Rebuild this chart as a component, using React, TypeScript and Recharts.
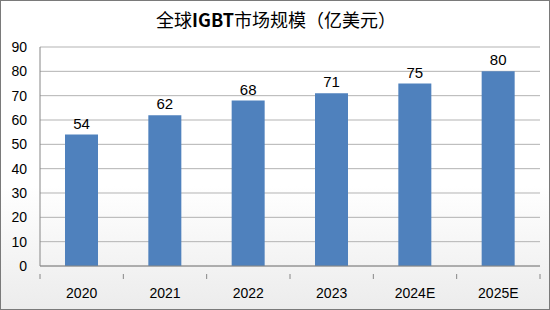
import React from "react";
import { BarChart, Bar, XAxis, YAxis, CartesianGrid, LabelList } from "recharts";

const years = ["2020", "2021", "2022", "2023", "2024E", "2025E"];
const marketSize = [54, 62, 68, 71, 75, 80];
const yTicks = [0, 10, 20, 30, 40, 50, 60, 70, 80, 90];

const data = years.map((year, i) => ({ year, value: marketSize[i] }));

const W = 550;
const H = 310;
const LEFT = 40;
const RIGHT = 10;
const BAND = (W - LEFT - RIGHT) / years.length;
const FONT = "'Liberation Sans', Arial, sans-serif";

const XTick = (props: any) => {
  const { x, y, payload, index } = props;
  const left = x - BAND / 2;
  return (
    <g>
      <line x1={left} y1={y} x2={left} y2={y + 5} stroke="#868686" />
      {index === years.length - 1 && (
        <line x1={left + BAND} y1={y} x2={left + BAND} y2={y + 5} stroke="#868686" />
      )}
      <text x={x} y={y + 24} textAnchor="middle" fontSize={14} fill="#000" fontFamily={FONT}>
        {payload.value}
      </text>
    </g>
  );
};

const App: React.FC = () => {
  return (
    <div
      style={{
        position: "absolute",
        left: 0,
        top: 0,
        width: W,
        height: H,
        boxSizing: "border-box",
        border: "1px solid #7a7a7a",
        background: "linear-gradient(180deg, #ffffff 0%, #ffffff 60%, #ececec 100%)",
        fontFamily: FONT,
      }}
    >
      <div
        style={{
          position: "absolute",
          top: 6,
          left: 0,
          width: W,
          textAlign: "center",
          fontSize: 18,
          fontFamily: "'Noto Sans CJK SC', sans-serif",
          color: "#000",
          lineHeight: "24px",
        }}
      >
        全球<b>IGBT</b>市场规模（亿美元）
      </div>
      <BarChart
        width={W - 2}
        height={H - 2}
        data={data}
        margin={{ top: 46, right: RIGHT - 1, bottom: 0, left: 0 }}
        style={{ position: "absolute", left: 0, top: 0 }}
      >
        <CartesianGrid vertical={false} stroke="#b3b3b3" />
        <XAxis
          dataKey="year"
          height={43}
          axisLine={{ stroke: "#868686" }}
          tickLine={false}
          tick={<XTick />}
          interval={0}
        />
        <YAxis
          width={LEFT - 1}
          domain={[0, 90]}
          ticks={yTicks}
          interval={0}
          axisLine={{ stroke: "#868686" }}
          tickLine={false}
          tickSize={0}
          tickMargin={13}
          tick={{ fontSize: 14, fill: "#000", fontFamily: FONT }}
        />
        <Bar dataKey="value" fill="#4f81bd" barSize={33} isAnimationActive={false}>
          <LabelList
            dataKey="value"
            position="top"
            offset={6}
            fontSize={15}
            fill="#000"
            fontFamily={FONT}
          />
        </Bar>
      </BarChart>
    </div>
  );
};

export default App;
